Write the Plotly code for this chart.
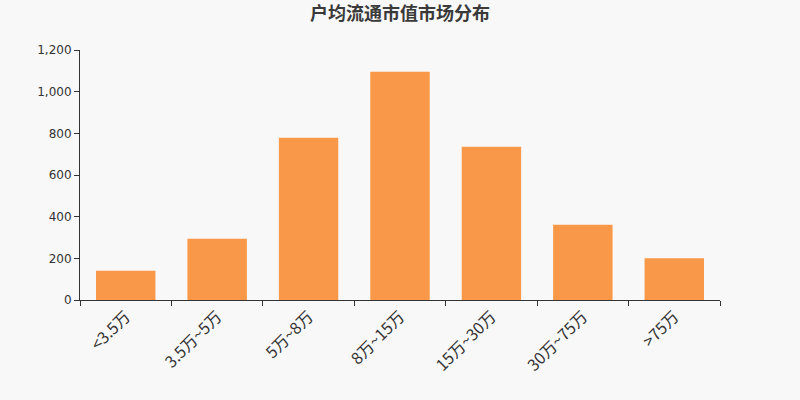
import plotly.graph_objects as go

# categories and counts
categories = ["<3.5万", "3.5万~5万", "5万~8万", "8万~15万", "15万~30万", "30万~75万", ">75万"]
counts = [140, 294, 779, 1096, 736, 361, 200]

title_text = "户均流通市值市场分布"
y_ticks = [0, 200, 400, 600, 800, 1000, 1200]

fig = go.Figure(go.Bar(
    x=categories,
    y=counts,
    marker=dict(color="#f89848", line=dict(width=0)),
    hoverinfo="x+y",
))

fig.update_layout(
    width=800, height=400,
    paper_bgcolor="#f8f8f8",
    plot_bgcolor="#f8f8f8",
    margin=dict(l=80, r=80, t=50, b=100),
    bargap=0.35,
    showlegend=False,
    title=dict(
        text="<b>" + title_text + "</b>",
        x=0.5, xanchor="center",
        y=0.965, yanchor="middle",
        font=dict(family="Noto Sans CJK SC", size=18, color="#3a3a3a"),
    ),
)

fig.update_xaxes(
    type="category",
    tickson="boundaries",
    ticks="outside", ticklen=5, tickcolor="#333333",
    showline=True, linecolor="#333333", linewidth=1,
    showgrid=False,
    tickangle=-45,
    tickfont=dict(family="Noto Sans CJK SC", size=16, color="#333333"),
)

fig.update_yaxes(
    range=[0, 1200],
    tickvals=y_ticks,
    tickformat=",",
    ticks="outside", ticklen=5, tickcolor="#333333",
    showline=True, linecolor="#333333", linewidth=1,
    showgrid=False, zeroline=False,
    tickfont=dict(family="DejaVu Sans", size=12, color="#333333"),
)

# page body has a default margin; drop it so the chart fills the window
fig.write_html("out.html", config={"displayModeBar": False},
               post_script="document.body.style.margin='0';")
